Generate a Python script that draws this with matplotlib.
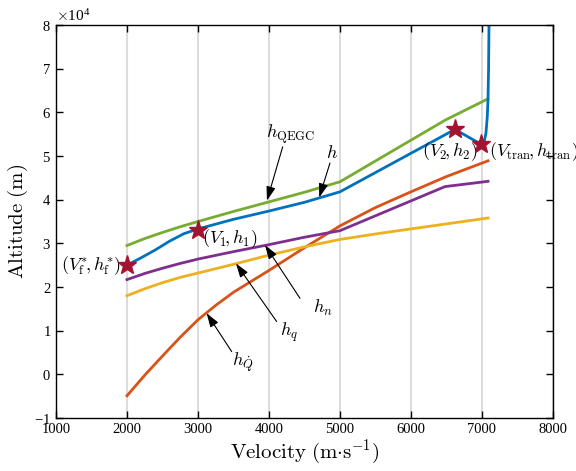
import numpy as np
import matplotlib.pyplot as plt
from matplotlib.ticker import ScalarFormatter

plt.rcParams['font.family'] = 'Liberation Serif'
plt.rcParams['mathtext.fontset'] = 'cm'
plt.rcParams['axes.unicode_minus'] = False

# velocity (m/s) and altitude (m)
v_qegc = [2000, 2250, 2500, 2750, 3000, 3500, 4000, 4500, 5000, 6480, 7085]
h_qegc = [2.95e4, 3.11e4, 3.25e4, 3.38e4, 3.50e4, 3.73e4, 3.95e4, 4.17e4, 4.41e4,
          5.82e4, 6.31e4]

v_h = [2000, 2200, 2400, 2600, 2800, 3000, 3500, 4000, 4500, 5000, 6620, 6986,
       7030, 7056, 7075, 7085, 7093, 7099, 7102]
h_h = [2.50e4, 2.67e4, 2.85e4, 3.05e4, 3.22e4, 3.33e4, 3.55e4, 3.74e4, 3.94e4,
       4.18e4, 5.61e4, 5.27e4, 5.32e4, 5.52e4, 5.90e4, 6.30e4, 7.00e4, 8.00e4, 8.50e4]

v_qdot = [2000, 2250, 2500, 2750, 3000, 3250, 3500, 4000, 4500, 5000, 5500, 6000,
          6500, 7085]
h_qdot = [-0.49e4, -0.02e4, 0.42e4, 0.85e4, 1.25e4, 1.58e4, 1.88e4, 2.38e4, 2.90e4,
          3.40e4, 3.82e4, 4.18e4, 4.53e4, 4.89e4]

v_n = [2000, 2250, 2500, 2750, 3000, 3500, 4000, 4500, 5000, 6480, 7085]
h_n = [2.17e4, 2.31e4, 2.43e4, 2.54e4, 2.64e4, 2.81e4, 2.97e4, 3.14e4, 3.29e4,
       4.30e4, 4.42e4]

v_q = [2000, 2250, 2500, 2750, 3000, 3500, 4000, 4500, 5000, 5563, 7085]
h_q = [1.80e4, 1.96e4, 2.10e4, 2.22e4, 2.32e4, 2.52e4, 2.73e4, 2.92e4, 3.09e4,
       3.23e4, 3.58e4]

v_star = [2000, 3000, 6620, 6986]
h_star = [2.50e4, 3.30e4, 5.61e4, 5.27e4]

fig = plt.figure(figsize=(5.76, 4.71), dpi=100)
ax = fig.add_axes([0.0972, 0.1125, 0.8628, 0.8344])

lw = 2.0
ax.plot(v_qegc, h_qegc, color='#77AC30', lw=lw)
ax.plot(v_h, h_h, color='#0072BD', lw=lw)
ax.plot(v_qdot, h_qdot, color='#D95319', lw=lw)
ax.plot(v_n, h_n, color='#7E2F8E', lw=lw)
ax.plot(v_q, h_q, color='#EDB120', lw=lw)
ax.plot(v_star, h_star, ls='none', marker='*', ms=14, color='#A2142F', zorder=5)

ax.set_xlim(1000, 8000)
ax.set_ylim(-1e4, 8e4)
ax.set_xticks(np.arange(1000, 8001, 1000))
ax.set_yticks(np.arange(-1e4, 8.01e4, 1e4))
fmt = ScalarFormatter(useMathText=True)
fmt.set_powerlimits((4, 4))
ax.yaxis.set_major_formatter(fmt)
ax.yaxis.get_offset_text().set_fontsize(11)

ax.xaxis.grid(True, color='#dcdcdc', lw=1.5)
ax.set_axisbelow(True)
ax.tick_params(direction='in', top=True, right=True, length=5, width=1,
               labelsize=10.5)
for s in ax.spines.values():
    s.set_linewidth(1)

ax.set_xlabel(r'$\mathrm{Velocity\ (m{\cdot}s^{-1})}$', fontsize=15, labelpad=1)
ax.set_ylabel(r'$\mathrm{Altitude\ (m)}$', fontsize=15, labelpad=3)

ap = dict(arrowstyle='-|>,head_length=0.85,head_width=0.28', color='k', lw=0.8,
          shrinkA=0, shrinkB=0, mutation_scale=10)
fs = 13
ax.annotate('', xy=(3972, 3.98e4), xytext=(4193, 5.21e4), arrowprops=ap)
ax.text(4307, 5.50e4, r'$h_{\rm QEGC}$', fontsize=fs, ha='center', va='center')
ax.annotate('', xy=(4708, 4.05e4), xytext=(4859, 4.84e4), arrowprops=ap)
ax.text(4883, 5.05e4, r'$h$', fontsize=fs, ha='center', va='center')
ax.annotate('', xy=(3944, 2.96e4), xytext=(4437, 1.74e4), arrowprops=ap)
ax.text(4761, 1.53e4, r'$h_n$', fontsize=fs, ha='center', va='center')
ax.annotate('', xy=(3535, 2.54e4), xytext=(4108, 1.21e4), arrowprops=ap)
ax.text(4282, 0.96e4, r'$h_q$', fontsize=fs, ha='center', va='center')
ax.annotate('', xy=(3122, 1.40e4), xytext=(3475, 0.52e4), arrowprops=ap)
ax.text(3627, 0.28e4, r'$h_{\dot{Q}}$', fontsize=fs, ha='center', va='center')

ax.text(1911, 2.50e4, r'$(V_{\rm f}^{*}\!,h_{\rm f}^{*})$', fontsize=fs, ha='right', va='center')
ax.text(3052, 3.10e4, r'$(V_1\!,h_1)$', fontsize=fs, ha='left', va='center')
ax.text(6545, 5.10e4, r'$(V_2\!,h_2)$', fontsize=fs, ha='center', va='center')
ax.text(7103, 5.10e4, r'$(V_{\rm tran}\!,h_{\rm tran})$', fontsize=fs, ha='left', va='center')

fig.savefig('out.png', dpi=100)
